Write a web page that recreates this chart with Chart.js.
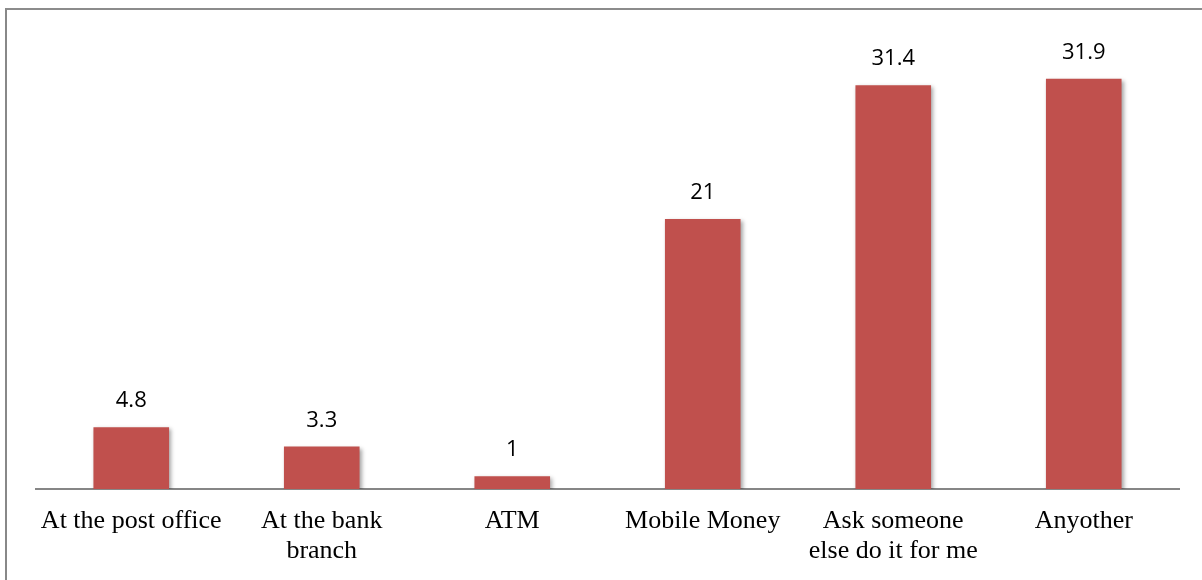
<!DOCTYPE html>
<html>
<head>
<meta charset="utf-8">
<script src="https://cdn.jsdelivr.net/npm/chart.js@4/dist/chart.umd.min.js"></script>
<style>
  html, body { margin: 0; padding: 0; background: #fff; }
  #wrap { position: relative; width: 1202px; height: 580px; }
  #frame {
    position: absolute; left: 5px; top: 8px; right: 0; bottom: 0;
    border-left: 2px solid #888; border-top: 2px solid #8c8c8c;
    pointer-events: none;
  }
</style>
</head>
<body>
<div id="wrap">
  <canvas id="c" width="1202" height="580"></canvas>
  <div id="frame"></div>
</div>
<script>
// Categories and percentages
const categories = [
  'At the post office',
  ['At the bank', 'branch'],
  'ATM',
  'Mobile Money',
  ['Ask someone', 'else do it for me'],
  'Anyother'
];
const values = [4.8, 3.3, 1, 21, 31.4, 31.9];

const barColor = '#C0504D';

// Soft shadow under the bars
const barShadow = {
  id: 'barShadow',
  beforeDatasetDraw(chart) {
    const ctx = chart.ctx;
    ctx.save();
    ctx.shadowColor = 'rgba(0,0,0,0.35)';
    ctx.shadowBlur = 4;
    ctx.shadowOffsetX = 2;
    ctx.shadowOffsetY = 2;
  },
  afterDatasetDraw(chart) {
    chart.ctx.restore();
  }
};

// Value written above each bar
const valueLabels = {
  id: 'valueLabels',
  afterDatasetsDraw(chart) {
    const ctx = chart.ctx;
    const meta = chart.getDatasetMeta(0);
    const data = chart.data.datasets[0].data;
    ctx.save();
    ctx.font = '22px "Open Sans", "Noto Sans", sans-serif';
    ctx.fillStyle = '#000';
    ctx.textAlign = 'center';
    ctx.textBaseline = 'alphabetic';
    meta.data.forEach((bar, i) => {
      ctx.fillText(String(data[i]), bar.x, bar.y - 20);
    });
    ctx.restore();
  }
};

new Chart(document.getElementById('c'), {
  type: 'bar',
  data: {
    labels: categories,
    datasets: [{
      data: values,
      backgroundColor: barColor,
      borderWidth: 0,
      categoryPercentage: 1,
      barPercentage: 0.397
    }]
  },
  options: {
    responsive: false,
    animation: false,
    layout: { padding: { left: 36, right: 23, top: 39, bottom: 0 } },
    plugins: {
      legend: { display: false },
      tooltip: { enabled: false }
    },
    scales: {
      x: {
        grid: { display: false, drawTicks: false },
        border: { display: true, color: '#868686', width: 2 },
        ticks: {
          color: '#000',
          padding: 17,
          maxRotation: 0,
          autoSkip: false,
          font: { family: '"Liberation Serif", "Times New Roman", serif', size: 26, lineHeight: 1.15 }
        },
        afterFit(scale) { scale.height = 91; }
      },
      y: {
        display: false,
        min: 0,
        max: 35
      }
    }
  },
  plugins: [barShadow, valueLabels]
});
</script>
</body>
</html>
